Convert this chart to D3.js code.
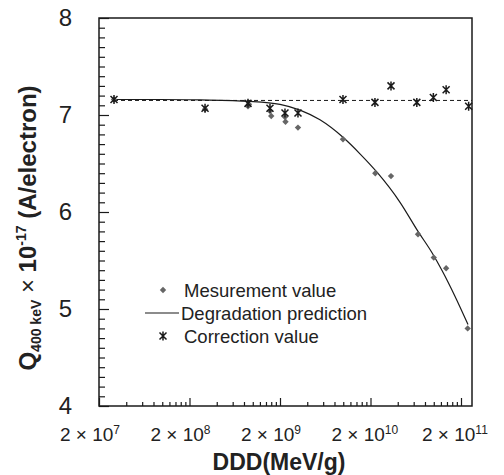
<!DOCTYPE html>
<html>
<head>
<meta charset="utf-8">
<script src="https://cdn.jsdelivr.net/npm/d3@7"></script>
<style>
  body { margin: 0; background: #fff; }
  text { font-family: "Liberation Sans", Arial, sans-serif; }
</style>
</head>
<body>
<div id="chart"></div>
<script>
const svgWidth = 504;
const svgHeight = 475;

// data (DDD in MeV/g, Q in 1e-17 A/electron)
const measDDD = [2.93e7, 2.97e8, 8.86e8, 9.08e8, 1.55e9, 1.6e9, 2.27e9, 2.3e9, 3.16e9, 9.93e9, 2.26e10, 3.37e10, 6.7e10, 1.0e11, 1.37e11, 2.37e11];
const measQ   = [7.16, 7.06, 7.09, 7.11, 7.04, 6.99, 6.98, 6.93, 6.87, 6.75, 6.40, 6.37, 5.77, 5.53, 5.42, 4.80];

const corrDDD = [2.93e7, 2.97e8, 8.86e8, 1.55e9, 2.27e9, 3.16e9, 9.93e9, 2.24e10, 3.37e10, 6.5e10, 9.9e10, 1.37e11, 2.43e11];
const corrQ   = [7.16, 7.07, 7.12, 7.07, 7.02, 7.02, 7.16, 7.13, 7.30, 7.13, 7.18, 7.26, 7.09];

const predDDD = [2.93e7, 9.44e7, 2.61e8, 9.3e8, 2.0e9, 3.33e9, 5.53e9, 9.93e9, 1.53e10, 2.36e10, 4.24e10, 6.7e10, 9.57e10, 1.23e11, 1.72e11, 2.39e11];
const predQ   = [7.16, 7.16, 7.155, 7.14, 7.11, 7.05, 6.95, 6.77, 6.60, 6.41, 6.10, 5.80, 5.58, 5.40, 5.13, 4.84];

const corrMean = 7.15;
const xMax = 2.646e11;

const xLabelValues = [2e7, 2e8, 2e9, 2e10, 2e11];
const xLabelExp = ["7", "8", "9", "10", "11"];
const yMajor = [4, 5, 6, 7, 8];
const legendLabels = ["Mesurement value", "Degradation prediction", "Correction value"];

const plot = {left: 99, right: 472, top: 18, bottom: 406};

const x = d3.scaleLog()
    .domain([2e7, xMax])
    .range([plot.left, plot.right]);

const y = d3.scaleLinear()
    .domain([4, 8])
    .range([plot.bottom, plot.top]);

const svg = d3.select("#chart")
    .append("svg")
    .attr("width", svgWidth)
    .attr("height", svgHeight);

const ink = "#1a1a1a";

// minor ticks on the log axis: 2*k*10^n
const xMinor = [];
xLabelValues.forEach(v => {
    for (let k = 2; k <= 9; k++) {
        if (v * k <= xMax) xMinor.push(v * k);
    }
});
const yMinor = d3.range(41).map(i => 4 + i * 0.1).filter(v => Math.abs(v - Math.round(v)) > 1e-6);

svg.append("g")
    .attr("transform", `translate(0,${plot.bottom})`)
    .call(d3.axisBottom(x).tickValues(xMinor).tickSize(-4).tickFormat(""))
    .call(g => g.select(".domain").remove())
    .selectAll("line").attr("stroke", ink).attr("stroke-width", 1.2);

svg.append("g")
    .attr("transform", `translate(0,${plot.bottom})`)
    .call(d3.axisBottom(x).tickValues(xLabelValues).tickSize(-8).tickFormat(""))
    .call(g => g.select(".domain").remove())
    .selectAll("line").attr("stroke", ink).attr("stroke-width", 1.2);

svg.append("g")
    .attr("transform", `translate(${plot.left},0)`)
    .call(d3.axisLeft(y).tickValues(yMinor).tickSize(-6).tickFormat(""))
    .call(g => g.select(".domain").remove())
    .selectAll("line").attr("stroke", ink).attr("stroke-width", 1.2);

const yAxis = svg.append("g")
    .attr("transform", `translate(${plot.left},0)`)
    .call(d3.axisLeft(y).tickValues(yMajor).tickSize(-10).tickPadding(27).tickFormat(d3.format("d")));
yAxis.select(".domain").remove();
yAxis.selectAll("line").attr("stroke", ink).attr("stroke-width", 1.2);
yAxis.selectAll("text")
    .attr("font-size", "24px")
    .attr("fill", "#222")
    .attr("font-family", "Liberation Sans, Arial, sans-serif");

// frame
svg.append("rect")
    .attr("x", plot.left)
    .attr("y", plot.top)
    .attr("width", plot.right - plot.left)
    .attr("height", plot.bottom - plot.top)
    .attr("fill", "none")
    .attr("stroke", ink)
    .attr("stroke-width", 1.5);

// x tick labels "2 x 10^n"
const xl = svg.append("g").selectAll("text")
    .data(xLabelValues)
    .join("text")
    .attr("x", d => x(d) - 39)
    .attr("y", 441)
    .attr("font-size", "19px")
    .attr("fill", "#222");
xl.append("tspan").text("2 × 10");
xl.append("tspan")
    .attr("dy", -7)
    .attr("font-size", "12px")
    .text((d, i) => xLabelExp[i]);

// axis titles
svg.append("text")
    .attr("x", 279)
    .attr("y", 470)
    .attr("text-anchor", "middle")
    .attr("font-size", "23px")
    .attr("font-weight", "bold")
    .attr("fill", "#222")
    .text("DDD(MeV/g)");

const yt = svg.append("text")
    .attr("transform", "translate(36,228) rotate(-90)")
    .attr("text-anchor", "middle")
    .attr("font-size", "24px")
    .attr("font-weight", "bold")
    .attr("fill", "#222");
yt.append("tspan").text("Q");
yt.append("tspan").attr("font-size", "14px").attr("dy", 5).text("400 keV");
yt.append("tspan").attr("dy", -5).attr("font-weight", "normal").text(" × ");
yt.append("tspan").text("10");
yt.append("tspan").attr("font-size", "14px").attr("dy", -10).text("-17");
yt.append("tspan").attr("dy", 10).text(" (A/electron)");

// dashed mean of corrected values
svg.append("path")
    .datum([[corrDDD[0], corrMean], [xMax, corrMean]])
    .attr("d", d3.line().x(d => x(d[0])).y(d => y(d[1])))
    .attr("fill", "none")
    .attr("stroke", ink)
    .attr("stroke-width", 1)
    .attr("stroke-dasharray", "4,3");

// degradation prediction
svg.append("path")
    .datum(predDDD.map((d, i) => [d, predQ[i]]))
    .attr("d", d3.line().x(d => x(d[0])).y(d => y(d[1])).curve(d3.curveMonotoneX))
    .attr("fill", "none")
    .attr("stroke", ink)
    .attr("stroke-width", 1.2);

const diamond = "M0,-3.2L3.2,0L0,3.2L-3.2,0Z";
const star = "M-3.5,-3.5L3.5,3.5M-3.5,3.5L3.5,-3.5M0,-4.5L0,4.5";

svg.append("g").selectAll("path")
    .data(measDDD)
    .join("path")
    .attr("transform", (d, i) => `translate(${x(d)},${y(measQ[i])})`)
    .attr("d", diamond)
    .attr("fill", "#666");

svg.append("g").selectAll("path")
    .data(corrDDD)
    .join("path")
    .attr("transform", (d, i) => `translate(${x(d)},${y(corrQ[i])})`)
    .attr("d", star)
    .attr("fill", "none")
    .attr("stroke", ink)
    .attr("stroke-width", 1.5);

// legend
const legend = svg.append("g");
legend.append("path")
    .attr("transform", "translate(163,290)")
    .attr("d", diamond)
    .attr("fill", "#666");
legend.append("line")
    .attr("x1", 145).attr("x2", 179)
    .attr("y1", 313).attr("y2", 313)
    .attr("stroke", ink).attr("stroke-width", 1.2);
legend.append("path")
    .attr("transform", "translate(163,336)")
    .attr("d", star)
    .attr("fill", "none")
    .attr("stroke", ink)
    .attr("stroke-width", 1.5);
legend.selectAll("text")
    .data(legendLabels)
    .join("text")
    .attr("x", (d, i) => i === 1 ? 181 : 184)
    .attr("y", (d, i) => 297 + i * 23)
    .attr("font-size", "18.5px")
    .attr("fill", "#222")
    .text(d => d);
</script>
</body>
</html>
